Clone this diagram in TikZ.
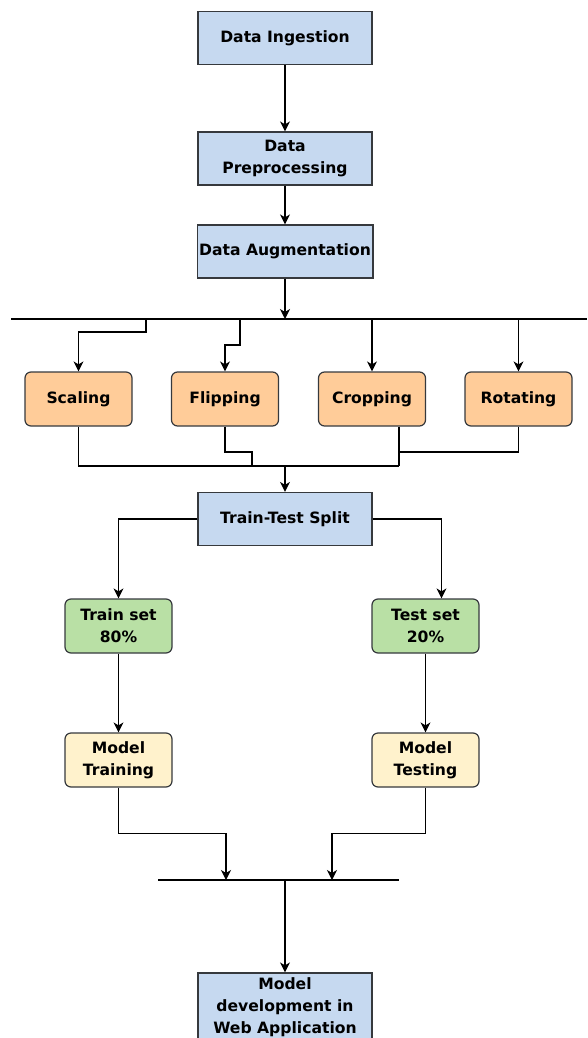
\documentclass[tikz,border=0pt]{standalone}
\usepackage{fontspec}
\setmainfont{DejaVu Sans}
\usetikzlibrary{arrows.meta}

\definecolor{boxblue}{HTML}{C6D9F0}
\definecolor{boxorange}{HTML}{FFCC99}
\definecolor{boxgreen}{HTML}{B9E0A5}
\definecolor{boxyellow}{HTML}{FFF2CC}
\definecolor{edgegrey}{HTML}{36393D}

\begin{document}
\begin{tikzpicture}[x=1pt,y=-1pt,
  box/.style={draw=edgegrey,line width=1.2pt,align=center,inner sep=2pt,
    font=\fontsize{15.6}{22}\selectfont\bfseries},
  bluebox/.style={box,fill=boxblue,minimum width=174pt,minimum height=53pt},
  augbox/.style={box,fill=boxorange,rounded corners=6pt,minimum width=107pt,minimum height=54pt},
  setbox/.style={box,fill=boxgreen,rounded corners=6pt,minimum width=107pt,minimum height=54pt},
  modbox/.style={box,fill=boxyellow,rounded corners=6pt,minimum width=107pt,minimum height=54pt},
  line/.style={line width=1.3pt,draw=black},
  arr/.style={line,-{Stealth[length=10pt,width=10pt,inset=3pt]}}]

  \useasboundingbox (0,0) rectangle (587,1038);
  \clip (0,0) rectangle (587,1038);

  % pipeline head
  \node[bluebox] (ingest) at (285,38)    {Data Ingestion};
  \node[bluebox] (prep)   at (285,158.5) {Data\\Preprocessing};
  \node[bluebox] (augm)   at (285,251.5) {Data Augmentation};

  % augmentation bar
  \coordinate (barL) at (11,319);
  \coordinate (barR) at (587,319);
  \coordinate (barC) at (285,319);
  \coordinate (tapS) at (146,319);
  \coordinate (tapF) at (240,319);

  \node[augbox] (scal) at (78.5,399)  {Scaling};
  \node[augbox] (flip) at (225,399)   {Flipping};
  \node[augbox] (crop) at (372,399)   {Cropping};
  \node[augbox] (rota) at (518.5,399) {Rotating};

  \coordinate (joinR) at (399,466);
  \coordinate (joinC) at (285,466);
  \coordinate (joinQ) at (399,452);
  \coordinate (joinF) at (252,452);

  % split
  \node[bluebox] (split) at (285,519) {Train-Test Split};
  \node[setbox] (trainset) at (118.5,626) {Train set\\80\%};
  \node[setbox] (testset)  at (425.5,626) {Test set\\20\%};
  \node[modbox] (train) at (118.5,760) {Model\\Training};
  \node[modbox] (test)  at (425.5,760) {Model\\Testing};

  \coordinate (bar2L) at (158,880);
  \coordinate (bar2R) at (399,880);
  \coordinate (bar2C) at (285,880);
  \coordinate (dropL) at (226,880);
  \coordinate (dropR) at (332,880);

  \node[bluebox,minimum height=68pt] (deploy) at (285,1007)
    {Model\\development in\\Web Application};

  \draw[arr] (ingest) -- (prep);
  \draw[arr] (prep) -- (augm);
  \draw[arr] (augm) -- (barC);
  \draw[line] (barL) -- (barR);

  \draw[arr] (tapS) -- ++(0,13) -| (scal);
  \draw[arr] (tapF) -- ++(0,26) -| (flip);
  \draw[arr] (barC -| crop) -- (crop);
  \draw[arr] (barC -| rota) -- (rota);

  \draw[line] (scal) |- (joinR);
  \draw[line] (crop.south -| joinR) -- (joinR);
  \draw[line] (rota) |- (joinQ);
  \draw[line] (flip) |- (joinF) -- (joinF |- joinR);
  \draw[arr] (joinC) -- (split);

  \draw[arr] (split) -| (trainset);
  \draw[arr] (split) -| ([xshift=16pt]testset.north);
  \draw[arr] (trainset) -- (train);
  \draw[arr] (testset) -- (test);

  \draw[arr] (train.south) -- ++(0,46) -| (dropL);
  \draw[arr] (test.south) -- ++(0,46) -| (dropR);
  \draw[line] (bar2L) -- (bar2R);
  \draw[arr] (bar2C) -- (deploy);
\end{tikzpicture}
\end{document}
